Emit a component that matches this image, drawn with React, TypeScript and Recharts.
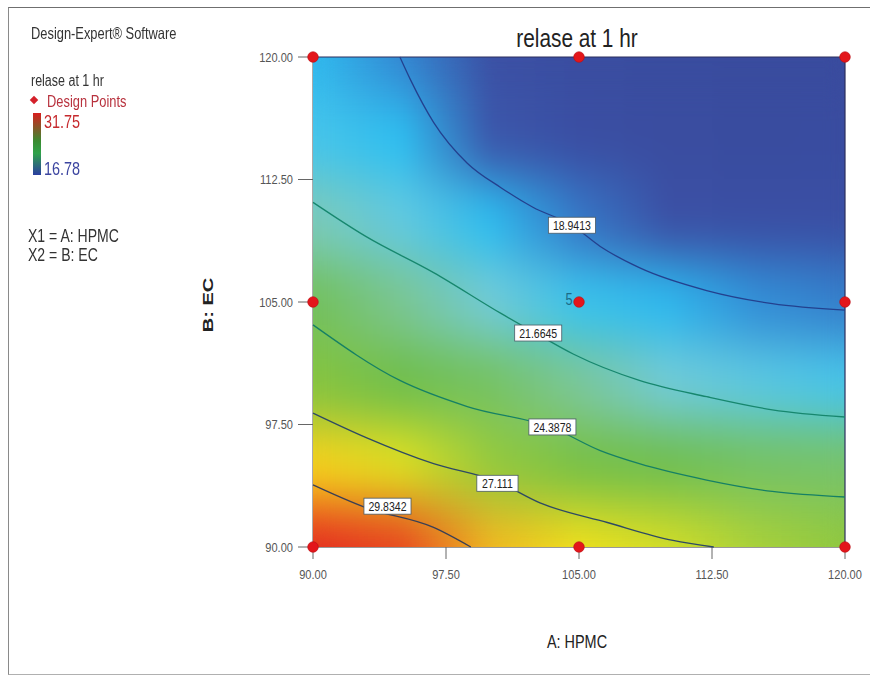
import React from 'react';
import { ScatterChart, Scatter, XAxis, YAxis } from 'recharts';

// ---------- data ----------
const HPMC_GRID = [90, 95, 100, 105, 110, 115, 120];
const EC_GRID = [120, 115, 110, 105, 100, 95, 90];

const RELEASE_EC_120 = [19.7, 18.9, 17.9, 17.2, 16.9, 16.8, 16.8];
const RELEASE_EC_115 = [20.8, 20.0, 18.4, 17.6, 17.2, 17.0, 17.1];
const RELEASE_EC_110 = [22.1, 21.2, 19.8, 18.8, 18.0, 17.8, 17.8];
const RELEASE_EC_105 = [23.9, 22.7, 21.5, 20.5, 19.5, 19.0, 18.85];
const RELEASE_EC_100 = [26.2, 24.5, 23.6, 22.6, 21.5, 21.1, 20.8];
const RELEASE_EC_95 = [29.1, 27.7, 26.5, 25.4, 24.3, 23.6, 23.3];
const RELEASE_EC_90 = [31.7, 31.0, 29.6, 28.6, 27.6, 26.9, 26.4];
const SURFACE_ROWS = [RELEASE_EC_120, RELEASE_EC_115, RELEASE_EC_110, RELEASE_EC_105, RELEASE_EC_100, RELEASE_EC_95, RELEASE_EC_90];

const AXIS_TICKS = [90, 97.5, 105, 112.5, 120];
const LEGEND_MAX = 31.75;
const LEGEND_MIN = 16.78;

const CONTOUR_18_9413 = [
  { x: 94.9, y: 120 }, { x: 95.5, y: 118.6 }, { x: 96.8, y: 116.0 }, { x: 98.7, y: 113.5 },
  { x: 100.6, y: 112.0 }, { x: 102.4, y: 110.8 }, { x: 104.6, y: 109.7 }, { x: 106.2, y: 108.4 },
  { x: 108.4, y: 107.1 }, { x: 112.2, y: 105.7 }, { x: 115.9, y: 104.9 }, { x: 120, y: 104.5 },
];
const CONTOUR_21_6645 = [
  { x: 90, y: 111.1 }, { x: 93.0, y: 109.0 }, { x: 96.8, y: 106.8 }, { x: 100.6, y: 104.3 },
  { x: 102.7, y: 103.0 }, { x: 104.7, y: 101.8 }, { x: 108.4, y: 100.2 }, { x: 112.2, y: 99.2 },
  { x: 115.9, y: 98.4 }, { x: 120, y: 97.96 },
];
const CONTOUR_24_3878 = [
  { x: 90, y: 103.6 }, { x: 94.9, y: 100.2 }, { x: 98.7, y: 98.6 }, { x: 103.5, y: 97.3 },
  { x: 106.2, y: 95.9 }, { x: 108.4, y: 95.1 }, { x: 112.2, y: 94.1 }, { x: 115.9, y: 93.4 },
  { x: 120, y: 93.06 },
];
const CONTOUR_27_111 = [
  { x: 90, y: 98.2 }, { x: 93.0, y: 96.7 }, { x: 96.8, y: 95.1 }, { x: 100.4, y: 94.0 },
  { x: 102.8, y: 92.7 }, { x: 106.6, y: 91.5 }, { x: 110.3, y: 90.4 }, { x: 112.6, y: 90 },
];
const CONTOUR_29_8342 = [
  { x: 90, y: 93.8 }, { x: 93.0, y: 92.4 }, { x: 96.8, y: 91.2 }, { x: 98.9, y: 90 },
];
const CONTOUR_LEVELS = ['18.9413', '21.6645', '24.3878', '27.111', '29.8342'];
const CONTOUR_LINES = [CONTOUR_18_9413, CONTOUR_21_6645, CONTOUR_24_3878, CONTOUR_27_111, CONTOUR_29_8342];
const CONTOUR_LABEL_X = [104.6, 102.7, 103.5, 100.4, 94.2];
const CONTOUR_LABEL_Y = [109.7, 103.1, 97.35, 93.9, 92.5];

const DESIGN_POINTS = [
  { x: 90, y: 90, n: 1 }, { x: 105, y: 90, n: 1 }, { x: 120, y: 90, n: 1 },
  { x: 90, y: 105, n: 1 }, { x: 105, y: 105, n: 5 }, { x: 120, y: 105, n: 1 },
  { x: 90, y: 120, n: 1 }, { x: 105, y: 120, n: 1 }, { x: 120, y: 120, n: 1 },
];

// ---------- styling ----------
const FONT = '"Liberation Sans", Arial, sans-serif';
const CHART_W = 870;
const CHART_H = 675;
const MARGIN = { top: 57, right: 25, bottom: 98, left: 233 };
const Y_AXIS_W = 80;
const X_AXIS_H = 30;
const PLOT_W = CHART_W - MARGIN.left - MARGIN.right - Y_AXIS_W;
const PLOT_H = CHART_H - MARGIN.top - MARGIN.bottom - X_AXIS_H;

const COLOR_STOPS: [number, string][] = [
  [16.78, '#394b9e'], [18.2, '#3b51a6'], [18.6, '#3b5eb1'], [18.94, '#3389d4'],
  [19.4, '#2db7ee'], [20.2, '#2dc0f0'], [20.8, '#47c5ea'], [21.4, '#6fcbdb'],
  [21.9, '#7ccbc6'], [22.6, '#7cc79a'], [23.3, '#77c36c'], [24.4, '#6ebe4c'],
  [26.0, '#7cc142'], [27.1, '#b5d434'], [27.9, '#ece41c'], [28.8, '#f8e01a'],
  [29.5, '#f6bf1e'], [29.95, '#f39422'], [30.4, '#ef6a24'], [30.9, '#e9441f'], [31.75, '#e32220'],
];
const CONTOUR_COLORS = ['#23418f', '#17876e', '#168064', '#2e4a63', '#3a3f55'];

function hexToRgb(h: string) {
  return [parseInt(h.slice(1, 3), 16), parseInt(h.slice(3, 5), 16), parseInt(h.slice(5, 7), 16)];
}
function valueColor(v: number) {
  if (v <= COLOR_STOPS[0][0]) return COLOR_STOPS[0][1];
  for (let i = 1; i < COLOR_STOPS.length; i++) {
    const [v1, c1] = COLOR_STOPS[i];
    if (v <= v1) {
      const [v0, c0] = COLOR_STOPS[i - 1];
      const t = (v - v0) / (v1 - v0);
      const a = hexToRgb(c0), b = hexToRgb(c1);
      const m = a.map((k, j) => Math.round(k + (b[j] - k) * t));
      return `rgb(${m[0]},${m[1]},${m[2]})`;
    }
  }
  return COLOR_STOPS[COLOR_STOPS.length - 1][1];
}

const hMin = Math.min(...HPMC_GRID);
const hMax = Math.max(...HPMC_GRID);
const eMin = Math.min(...EC_GRID);
const eMax = Math.max(...EC_GRID);

const surfaceData = EC_GRID.map((ec, i) => ({ x: (hMin + hMax) / 2, y: ec, row: i }));
const frameData = [{ x: hMin, y: eMax }, { x: hMax, y: eMax }, { x: hMax, y: eMin }];
const labelData = CONTOUR_LEVELS.map((t, i) => ({ x: CONTOUR_LABEL_X[i], y: CONTOUR_LABEL_Y[i], text: t }));

const SurfaceRow = (props: any) => {
  const { cx, cy, payload } = props;
  const cellH = PLOT_H / (EC_GRID.length - 1);
  const top = payload.y === eMax ? cy : cy - cellH / 2 - 0.5;
  const bottom = payload.y === eMin ? cy : cy + cellH / 2 + 0.5;
  return <rect x={cx - PLOT_W / 2} y={top} width={PLOT_W} height={bottom - top} fill={`url(#surfRow${payload.row})`} />;
};

const textWidth = (s: string, size: number, sx: number) =>
  s.split('').reduce((w, ch) => w + (ch === '.' ? 0.278 : 0.556), 0) * size * sx;

const ContourLabel = (props: any) => {
  const { cx, cy, payload } = props;
  const size = 13.5, sx = 0.78;
  const w = textWidth(payload.text, size, sx) + 9;
  const h = 16;
  return (
    <g>
      <rect x={cx - w / 2} y={cy - h / 2} width={w} height={h} fill="#fff" stroke="#4a5a66" strokeWidth={0.8} />
      <text transform={`translate(${cx},${cy}) scale(${sx},1)`} textAnchor="middle" dy="0.36em" fontSize={size} fill="#222" fontFamily={FONT}>
        {payload.text}
      </text>
    </g>
  );
};

const DesignPoint = (props: any) => {
  const { cx, cy, payload } = props;
  return (
    <g>
      <circle cx={cx} cy={cy} r={5.3} fill="#e3161b" stroke="#b80e12" strokeWidth={0.6} />
      {payload.n > 1 && (
        <text transform={`translate(${cx - 10},${cy - 3}) scale(0.8,1)`} textAnchor="middle" dy="0.36em" fontSize={16} fill="#1b6a86" fontFamily={FONT}>
          {payload.n}
        </text>
      )}
    </g>
  );
};

const Nothing = () => <g />;

const XTick = (props: any) => {
  const { x, y, payload } = props;
  return (
    <text transform={`translate(${x},${y}) scale(0.82,1)`} textAnchor="middle" dy="0.71em" fontSize={13.5} fill="#555" fontFamily={FONT}>
      {Number(payload.value).toFixed(2)}
    </text>
  );
};
const YTick = (props: any) => {
  const { x, y, payload } = props;
  return (
    <text transform={`translate(${x},${y}) scale(0.82,1)`} textAnchor="end" dy="0.355em" fontSize={13.5} fill="#555" fontFamily={FONT}>
      {Number(payload.value).toFixed(2)}
    </text>
  );
};

const Txt = ({ x, y, size, color = '#333', sx = 0.78, center = false, children }: any) => (
  <div
    style={{
      position: 'absolute', left: x, top: y - size * 0.49, fontSize: size, lineHeight: 1, color,
      whiteSpace: 'nowrap', fontFamily: FONT,
      transform: `${center ? 'translateX(-50%) ' : ''}scaleX(${sx})`,
      transformOrigin: center ? 'center' : 'left',
    }}
  >
    {children}
  </div>
);

export default function App() {
  const span = hMax - hMin;
  return (
    <div style={{ position: 'relative', width: CHART_W, height: CHART_H, overflow: 'hidden', background: '#fff', fontFamily: FONT }}>
      <style>{`body{margin:0;} .surface-layer{filter:url(#surfaceBlur);}`}</style>
      <svg width={0} height={0} style={{ position: 'absolute' }}>
        <defs>
          {SURFACE_ROWS.map((row, i) => (
            <linearGradient id={`surfRow${i}`} key={i} x1="0" y1="0" x2="1" y2="0">
              {row.map((v, j) => (
                <stop key={j} offset={(HPMC_GRID[j] - hMin) / span} stopColor={valueColor(v)} />
              ))}
            </linearGradient>
          ))}
          <filter id="surfaceBlur" x="-5%" y="-5%" width="110%" height="110%" colorInterpolationFilters="sRGB">
            <feGaussianBlur in="SourceGraphic" stdDeviation="9 26" result="blur" />
            <feComponentTransfer in="blur" result="opaque">
              <feFuncA type="table" tableValues="1 1" />
            </feComponentTransfer>
            <feComposite in="opaque" in2="SourceGraphic" operator="in" />
          </filter>
        </defs>
      </svg>

      {/* outer frame */}
      <div style={{ position: 'absolute', left: 8, top: 7, width: 900, height: 666, borderTop: '1.5px solid #6f6f6f', borderLeft: '1.5px solid #8a8a8a', borderBottom: '1.5px solid #b0b0b0' }} />

      <div style={{ position: 'absolute', left: 0, top: 0 }}>
        <ScatterChart width={CHART_W} height={CHART_H} margin={MARGIN}>
          <XAxis
            type="number" dataKey="x" domain={[hMin, hMax]} ticks={AXIS_TICKS} height={X_AXIS_H}
            tickSize={12} tickMargin={10} tick={<XTick />} stroke="#333" tickLine={{ stroke: '#666' }}
          />
          <YAxis
            type="number" dataKey="y" domain={[eMin, eMax]} ticks={AXIS_TICKS} width={Y_AXIS_W}
            tickSize={15} tickMargin={5} tick={<YTick />} stroke="#555" tickLine={{ stroke: '#666' }}
          />
          <Scatter className="surface-layer" data={surfaceData} shape={<SurfaceRow />} isAnimationActive={false} />
          <Scatter data={frameData} line={{ stroke: '#2c2f5e', strokeWidth: 1.2 }} shape={<Nothing />} isAnimationActive={false} />
          {CONTOUR_LINES.map((pts, i) => (
            <Scatter
              key={CONTOUR_LEVELS[i]} data={pts} line={{ stroke: CONTOUR_COLORS[i], strokeWidth: 1.3 }}
              lineJointType="monotoneX" shape={<Nothing />} isAnimationActive={false}
            />
          ))}
          <Scatter data={labelData} shape={<ContourLabel />} isAnimationActive={false} />
          <Scatter data={DESIGN_POINTS} shape={<DesignPoint />} isAnimationActive={false} />
        </ScatterChart>
      </div>

      {/* title and legend texts */}
      <div style={{ position: 'absolute', left: 577, top: 25, fontSize: 26, lineHeight: 1, color: '#222', whiteSpace: 'nowrap', transform: 'translateX(-50%) scaleX(0.8)', transformOrigin: 'center' }}>
        relase at 1 hr
      </div>
      <Txt x={31} y={32.8} size={16.5}>Design-Expert® Software</Txt>
      <Txt x={31} y={80.5} size={16}>relase at 1 hr</Txt>
      <div style={{ position: 'absolute', left: 31, top: 97, width: 6, height: 6, background: '#d4202a', transform: 'rotate(45deg)' }} />
      <Txt x={47} y={100.8} size={16.5} color="#b8323e">Design Points</Txt>
      <div style={{ position: 'absolute', left: 33, top: 113, width: 8, height: 62, background: 'linear-gradient(#d81e1e, #3a8a30 45%, #2fa24a 65%, #2a3ea0)' }} />
      <Txt x={44} y={122} size={18.5} color="#c62a2e">{LEGEND_MAX.toFixed(2)}</Txt>
      <Txt x={44} y={169.5} size={18.5} color="#3c45a0">{LEGEND_MIN.toFixed(2)}</Txt>
      <Txt x={28} y={236} size={18}>X1 = A: HPMC</Txt>
      <Txt x={28} y={255} size={18}>X2 = B: EC</Txt>

      {/* axis titles */}
      <Txt x={577} y={641.7} size={18.5} color="#222" center>A: HPMC</Txt>
      <div style={{ position: 'absolute', left: 208, top: 305, fontSize: 20, lineHeight: 1, color: '#222', fontWeight: 'bold', whiteSpace: 'nowrap', transform: 'translate(-50%,-50%) rotate(-90deg) scaleY(0.72)', transformOrigin: 'center' }}>
        B: EC
      </div>
    </div>
  );
}
